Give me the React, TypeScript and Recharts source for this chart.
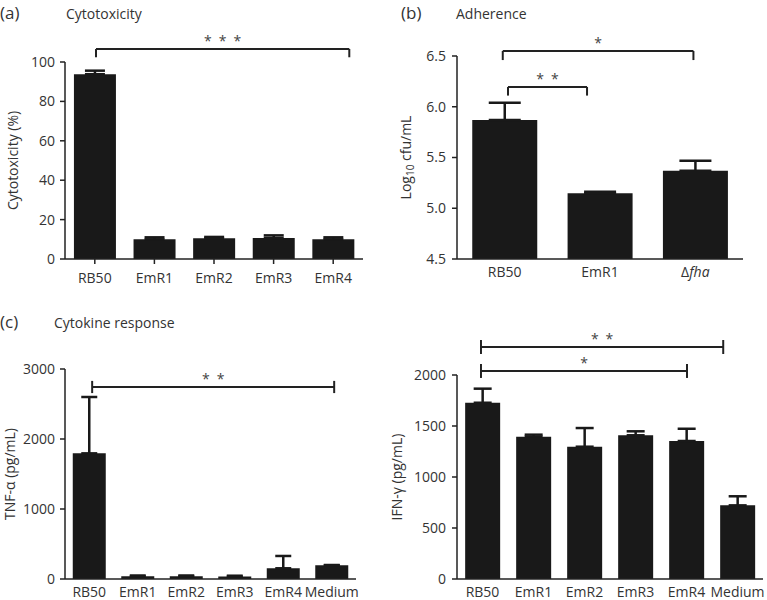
import React from "react";
import { BarChart, Bar, XAxis, YAxis, ErrorBar, ReferenceLine } from "recharts";

// (a) cytotoxicity
const cytoGroups = ["RB50", "EmR1", "EmR2", "EmR3", "EmR4"];
const cytoMean = [93.8, 10.0, 10.5, 10.7, 10.0];
const cytoErr = [1.8, 1.0, 0.7, 1.3, 1.0];
const cytoTicks = [0, 20, 40, 60, 80, 100];

// (b) adherence, log10 cfu/mL
const adhGroups = ["RB50", "EmR1", "Δfha"];
const adhMean = [5.87, 5.147, 5.37];
const adhErr = [0.17, 0.016, 0.098];
const adhTicks = [4.5, 5.0, 5.5, 6.0, 6.5];

// (c) cytokines, pg/mL
const cytokineGroups = ["RB50", "EmR1", "EmR2", "EmR3", "EmR4", "Medium"];
const tnfMean = [1795, 38, 40, 35, 153, 196];
const tnfErr = [805, 12, 10, 12, 176, 4];
const tnfTicks = [0, 1000, 2000, 3000];
const ifnMean = [1728, 1395, 1297, 1409, 1353, 722];
const ifnErr = [138, 20, 183, 39, 120, 89];
const ifnTicks = [0, 500, 1000, 1500, 2000];

// significance brackets: x on a 0..n group-index axis, y in data units
const STARS3 = "*\u2002*\u2002*";
const STARS2 = "*\u2002*";
const cytoSig = [{ from: 0.52, to: 4.77, y: 106.6, hi: 106.6, lo: 102.4, stars: STARS3 }];
const adhSig = [
  { from: 0.48, to: 2.48, y: 6.549, hi: 6.549, lo: 6.46, stars: "*" },
  { from: 0.535, to: 1.364, y: 6.195, hi: 6.195, lo: 6.11, stars: STARS2 },
];
const tnfSig = [{ from: 0.56, to: 5.55, y: 2743, hi: 2830, lo: 2656, stars: STARS2 }];
const ifnSig = [
  { from: 0.47, to: 5.22, y: 2275, hi: 2343, lo: 2206, stars: STARS2 },
  { from: 0.47, to: 4.51, y: 2039, hi: 2108, lo: 1971, stars: "*" },
];

const toRows = (groups: string[], mean: number[], err: number[]) =>
  groups.map((name, i) => ({ name, pos: i + 0.5, value: mean[i], err: [0, err[i]] }));

const cytoData = toRows(cytoGroups, cytoMean, cytoErr);
const adhData = toRows(adhGroups, adhMean, adhErr);
const tnfData = toRows(cytokineGroups, tnfMean, tnfErr);
const ifnData = toRows(cytokineGroups, ifnMean, ifnErr);

const INK = "#222";
const TEXT = "#333";
const BAR = "#191919";
const tickStyle = { fill: TEXT, fontSize: 14 };

function bracketLines(list: any[], key: string) {
  return list.flatMap((b, i) => [
    <ReferenceLine
      key={`${key}h${i}`}
      xAxisId="pos"
      ifOverflow="visible"
      segment={[{ x: b.from, y: b.y }, { x: b.to, y: b.y }]}
      stroke={INK}
      strokeWidth={2}
      label={{ value: b.stars, position: "top", fill: "#444", fontSize: 14, offset: 3 }}
    />,
    <ReferenceLine
      key={`${key}l${i}`}
      xAxisId="pos"
      ifOverflow="visible"
      segment={[{ x: b.from, y: b.hi }, { x: b.from, y: b.lo }]}
      stroke={INK}
      strokeWidth={2}
    />,
    <ReferenceLine
      key={`${key}r${i}`}
      xAxisId="pos"
      ifOverflow="visible"
      segment={[{ x: b.to, y: b.hi }, { x: b.to, y: b.lo }]}
      stroke={INK}
      strokeWidth={2}
    />,
  ]);
}

// rotated y axis title, optional subscript after the first part
function yTitle(text: string, x: number, sub?: string, rest?: string) {
  return (props: any) => {
    const vb = props.viewBox;
    const cy = vb.y + vb.height / 2;
    return (
      <text
        x={x}
        y={cy}
        transform={`rotate(-90 ${x} ${cy})`}
        textAnchor="middle"
        dominantBaseline="central"
        fill={TEXT}
        fontSize={14}
      >
        {text}
        {sub ? (
          <>
            <tspan dy={5} fontSize={10}>{sub}</tspan>
            <tspan dy={-5}>{rest}</tspan>
          </>
        ) : null}
      </text>
    );
  };
}

function GroupTick(props: any) {
  const { x, y, payload } = props;
  const v: string = payload.value;
  return (
    <text x={x} y={y} dy="0.71em" textAnchor="middle" fill={TEXT} fontSize={14}>
      {v.startsWith("Δ") ? (
        <>
          <tspan>Δ</tspan>
          <tspan fontStyle="italic">{v.slice(1)}</tspan>
        </>
      ) : (
        v
      )}
    </text>
  );
}

const axisLine = { stroke: INK, strokeWidth: 1.5 };

export default function App() {
  return (
    <div
      style={{
        position: "absolute",
        left: 0,
        top: 0,
        width: 767,
        height: 600,
        background: "#fff",
        fontFamily: "'Open Sans', sans-serif",
        overflow: "hidden",
      }}
    >
      <svg width={767} height={600} style={{ position: "absolute", left: 0, top: 0 }}>
        <g fill={TEXT}>
          <text x={0} y={19} fontSize={17}>(a)</text>
          <text x={66} y={19} fontSize={14}>Cytotoxicity</text>
          <text x={401} y={19} fontSize={17}>(b)</text>
          <text x={456} y={19} fontSize={14}>Adherence</text>
          <text x={0} y={328} fontSize={17}>(c)</text>
          <text x={54} y={328} fontSize={14}>Cytokine response</text>
        </g>
      </svg>

      {/* (a) cytotoxicity */}
      <div style={{ position: "absolute", left: 0, top: 0 }}>
        <BarChart width={380} height={300} data={cytoData} margin={{ top: 62, right: 17, bottom: 11, left: 0 }} barCategoryGap="15%">
          <XAxis dataKey="name" height={30} axisLine={axisLine} tickLine={{ stroke: INK, strokeWidth: 1.5 }} tickSize={5} tickMargin={9} tick={<GroupTick />} interval={0} />
          <XAxis xAxisId="pos" dataKey="pos" type="number" domain={[0, 5]} allowDataOverflow hide />
          <YAxis
            width={65}
            domain={[0, 100]}
            ticks={cytoTicks}
            axisLine={axisLine}
            tickLine={{ stroke: INK, strokeWidth: 1.5 }}
            tickSize={5}
            tickMargin={5}
            tick={tickStyle}
            label={{ content: yTitle("Cytotoxicity (%)", 12) }}
          />
          <Bar dataKey="value" fill={BAR} isAnimationActive={false}>
            <ErrorBar dataKey="err" width={10} stroke={BAR} strokeWidth={2.5} direction="y" />
          </Bar>
          {bracketLines(cytoSig, "a")}
        </BarChart>
      </div>

      {/* (b) adherence */}
      <div style={{ position: "absolute", left: 380, top: 0 }}>
        <BarChart width={387} height={300} data={adhData} margin={{ top: 56, right: 24, bottom: 11, left: 0 }} barCategoryGap="16%">
          <XAxis dataKey="name" height={30} axisLine={axisLine} tickLine={false} tickSize={0} tickMargin={8} tick={<GroupTick />} interval={0} />
          <XAxis xAxisId="pos" dataKey="pos" type="number" domain={[0, 3]} allowDataOverflow hide />
          <YAxis
            width={77}
            domain={[4.5, 6.5]}
            allowDataOverflow
            ticks={adhTicks}
            tickFormatter={(v: number) => v.toFixed(1)}
            axisLine={axisLine}
            tickLine={{ stroke: INK, strokeWidth: 1.5 }}
            tickSize={5}
            tickMargin={6}
            tick={tickStyle}
            label={{ content: yTitle("Log", 25, "10", " cfu/mL") }}
          />
          <Bar dataKey="value" fill={BAR} isAnimationActive={false}>
            <ErrorBar dataKey="err" width={16} stroke={BAR} strokeWidth={2.5} direction="y" />
          </Bar>
          {bracketLines(adhSig, "b")}
        </BarChart>
      </div>

      {/* (c) TNF-alpha */}
      <div style={{ position: "absolute", left: 0, top: 300 }}>
        <BarChart width={380} height={300} data={tnfData} margin={{ top: 69, right: 24, bottom: 0, left: 0 }} barCategoryGap="16%">
          <XAxis dataKey="name" height={21} axisLine={axisLine} tickLine={false} tickSize={0} tickMargin={8} tick={<GroupTick />} interval={0} />
          <XAxis xAxisId="pos" dataKey="pos" type="number" domain={[0, 6]} allowDataOverflow hide />
          <YAxis
            width={65}
            domain={[0, 3000]}
            ticks={tnfTicks}
            axisLine={axisLine}
            tickLine={{ stroke: INK, strokeWidth: 1.5 }}
            tickSize={5}
            tickMargin={5}
            tick={tickStyle}
            label={{ content: yTitle("TNF-α (pg/mL)", 9) }}
          />
          <Bar dataKey="value" fill={BAR} isAnimationActive={false}>
            <ErrorBar dataKey="err" width={8} stroke={BAR} strokeWidth={2.5} direction="y" />
          </Bar>
          {bracketLines(tnfSig, "c")}
        </BarChart>
      </div>

      {/* (c) IFN-gamma */}
      <div style={{ position: "absolute", left: 380, top: 300 }}>
        <BarChart width={387} height={300} data={ifnData} margin={{ top: 75, right: 4, bottom: 0, left: 0 }} barCategoryGap="16%">
          <XAxis dataKey="name" height={21} axisLine={axisLine} tickLine={false} tickSize={0} tickMargin={8} tick={<GroupTick />} interval={0} />
          <XAxis xAxisId="pos" dataKey="pos" type="number" domain={[0, 6]} allowDataOverflow hide />
          <YAxis
            width={77}
            domain={[0, 2000]}
            ticks={ifnTicks}
            axisLine={axisLine}
            tickLine={{ stroke: INK, strokeWidth: 1.5 }}
            tickSize={5}
            tickMargin={6}
            tick={tickStyle}
            label={{ content: yTitle("IFN-γ (pg/mL)", 16) }}
          />
          <Bar dataKey="value" fill={BAR} isAnimationActive={false}>
            <ErrorBar dataKey="err" width={9} stroke={BAR} strokeWidth={2.5} direction="y" />
          </Bar>
          {bracketLines(ifnSig, "d")}
        </BarChart>
      </div>
    </div>
  );
}
